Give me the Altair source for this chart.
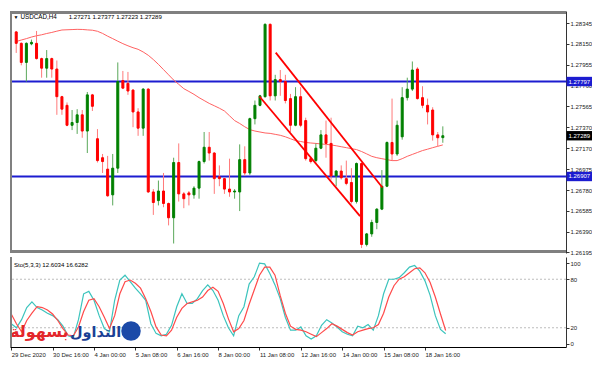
import json
import pandas as pd
import altair as alt

W, H1, H2 = 556, 242, 90
FONT = "Liberation Sans"

# ---------------- data ----------------
bars = list(range(85))
opens = [1.28262, 1.28155, 1.27976, 1.28150, 1.28155, 1.28012, 1.27922, 1.28012, 1.27914, 1.27655,
         1.27574, 1.27387, 1.27413, 1.27485, 1.27333, 1.27672, 1.27261, 1.27083, 1.26976, 1.26735,
         1.26985, 1.27806, 1.27780, 1.27717, 1.27512, 1.27360, 1.27726, 1.26762, 1.26681, 1.26771,
         1.26654, 1.26520, 1.27038, 1.26744, 1.26753, 1.26735, 1.26798, 1.27047, 1.27181, 1.27127,
         1.26904, 1.26887, 1.26789, 1.26762, 1.26762, 1.27065, 1.26940, 1.27449, 1.27574, 1.27655,
         1.28333, 1.27663, 1.27815, 1.27797, 1.27637, 1.27387, 1.27655, 1.27431, 1.27074, 1.27056,
         1.27172, 1.27297, 1.27217, 1.26913, 1.26958, 1.26887, 1.26851, 1.26672, 1.27029, 1.26270,
         1.26369, 1.26476, 1.26601, 1.26816, 1.27226, 1.27118, 1.27279, 1.27646, 1.27726, 1.27914,
         1.27646, 1.27574, 1.27530, 1.27297, 1.27271]
highs = [1.28271, 1.28164, 1.28164, 1.28190, 1.28271, 1.28021, 1.28092, 1.28021, 1.27994, 1.27663,
         1.27601, 1.27530, 1.27538, 1.27530, 1.27699, 1.27681, 1.27351, 1.27118, 1.27100, 1.27118,
         1.27976, 1.27896, 1.27887, 1.27726, 1.27547, 1.27735, 1.27735, 1.26789, 1.26869, 1.26940,
         1.26663, 1.27083, 1.27217, 1.26762, 1.26771, 1.26816, 1.27056, 1.27324, 1.27324, 1.27136,
         1.27011, 1.26895, 1.27074, 1.26789, 1.27208, 1.27190, 1.27458, 1.27619, 1.27672, 1.28342,
         1.28342, 1.27860, 1.27905, 1.27860, 1.27681, 1.27744, 1.27744, 1.27458, 1.27092, 1.27217,
         1.27342, 1.27431, 1.27458, 1.26967, 1.27011, 1.27056, 1.26985, 1.27038, 1.27038, 1.26378,
         1.26502, 1.26610, 1.26967, 1.27235, 1.27637, 1.27431, 1.27744, 1.27833, 1.27985, 1.27931,
         1.27753, 1.27637, 1.27556, 1.27324, 1.27377]
lows = [1.28065, 1.27949, 1.27797, 1.28137, 1.28003, 1.27833, 1.27833, 1.27833, 1.27485, 1.27485,
        1.27378, 1.27342, 1.27306, 1.27270, 1.27127, 1.27521, 1.27038, 1.26940, 1.26717, 1.26636,
        1.26940, 1.27726, 1.27672, 1.27369, 1.27288, 1.27288, 1.26753, 1.26547, 1.26636, 1.26619,
        1.26449, 1.26279, 1.26672, 1.26610, 1.26636, 1.26699, 1.26699, 1.27029, 1.27056, 1.26744,
        1.26816, 1.26744, 1.26717, 1.26699, 1.26583, 1.26913, 1.26922, 1.27395, 1.27565, 1.27646,
        1.27619, 1.27619, 1.27663, 1.27592, 1.27324, 1.27378, 1.27369, 1.27056, 1.27029, 1.27038,
        1.27163, 1.27083, 1.26878, 1.26816, 1.26878, 1.26825, 1.26654, 1.26654, 1.26236, 1.26252,
        1.26342, 1.26413, 1.26592, 1.26807, 1.27056, 1.27100, 1.27252, 1.27619, 1.27708, 1.27628,
        1.27547, 1.27395, 1.27243, 1.27190, 1.27223]
closes = [1.28155, 1.27976, 1.28155, 1.28164, 1.28012, 1.27922, 1.28012, 1.27914, 1.27655, 1.27538,
          1.27387, 1.27413, 1.27485, 1.27333, 1.27672, 1.27565, 1.27056, 1.27047, 1.26726, 1.26985,
          1.27797, 1.27735, 1.27708, 1.27512, 1.27360, 1.27726, 1.26762, 1.26663, 1.26771, 1.26654,
          1.26520, 1.27038, 1.26744, 1.26699, 1.26735, 1.26798, 1.27047, 1.27181, 1.27127, 1.26887,
          1.26887, 1.26789, 1.26762, 1.26771, 1.27065, 1.26940, 1.27449, 1.27574, 1.27663, 1.28333,
          1.27663, 1.27815, 1.27797, 1.27619, 1.27387, 1.27655, 1.27387, 1.27074, 1.27047, 1.27172,
          1.27297, 1.27217, 1.26913, 1.26958, 1.26895, 1.26842, 1.26672, 1.27029, 1.26270, 1.26369,
          1.26476, 1.26601, 1.26816, 1.27226, 1.27118, 1.27387, 1.27646, 1.27726, 1.27905, 1.27637,
          1.27574, 1.27512, 1.27297, 1.27270, 1.27289]
ma = [1.28172, 1.28186, 1.28199, 1.28214, 1.28226, 1.28235, 1.28247, 1.28257, 1.28269, 1.28280,
      1.28282, 1.28284, 1.28286, 1.28285, 1.28281, 1.28278, 1.28268, 1.28248, 1.28222, 1.28199,
      1.28175, 1.28152, 1.28132, 1.28114, 1.28099, 1.28074, 1.28043, 1.28003, 1.27958, 1.27909,
      1.27860, 1.27811, 1.27771, 1.27730, 1.27704, 1.27677, 1.27646, 1.27619, 1.27592, 1.27570,
      1.27547, 1.27521, 1.27476, 1.27431, 1.27404, 1.27373, 1.27346, 1.27333, 1.27324, 1.27315,
      1.27311, 1.27302, 1.27293, 1.27279, 1.27261, 1.27243, 1.27235, 1.27226, 1.27221, 1.27217,
      1.27212, 1.27208, 1.27203, 1.27195, 1.27186, 1.27177, 1.27168, 1.27159, 1.27141, 1.27119,
      1.27096, 1.27083, 1.27074, 1.27065, 1.27056, 1.27056, 1.27074, 1.27096, 1.27114, 1.27132,
      1.27150, 1.27163, 1.27177, 1.27190, 1.27203]
sto_main = [25, 20, 30, 45, 52, 45, 42, 38, 35, 30,
            22, 10, 8, 30, 62, 65, 54, 35, 19, 15,
            54, 79, 85, 77, 69, 62, 54, 25, 13, 10,
            12, 23, 46, 62, 50, 50, 56, 66, 73, 66,
            54, 35, 20, 10, 35, 46, 74, 83, 100, 99,
            87, 73, 56, 33, 17, 17, 21, 10, 6, 10,
            23, 30, 26, 21, 15, 12, 10, 22, 20, 24,
            17, 35, 62, 80, 80, 82, 88, 95, 97, 90,
            78, 60, 35, 18, 12.6034]
sto_signal = [37, 25, 15, 29, 38, 46, 45, 42, 37, 29,
              19, 11, 10, 21, 40, 54, 56, 46, 33, 19,
              35, 62, 77, 79, 75, 69, 56, 40, 21, 11,
              10, 17, 33, 44, 50, 52, 54, 58, 66, 70,
              65, 50, 31, 15, 19, 29, 49, 67, 85, 95,
              95, 85, 60, 38, 22, 18, 17, 15, 12, 9,
              14, 19, 25, 22, 18, 14, 11, 15, 17, 19,
              20, 24, 38, 58, 72, 80, 83, 88, 93, 94,
              88, 76, 58, 37, 16.6282]

price_ticks = [1.28345, 1.28150, 1.27955, 1.27760, 1.27565, 1.27370,
               1.27170, 1.26975, 1.26780, 1.26585, 1.26390, 1.26195]
levels = [1.27797, 1.26907]
last_price = 1.27289
sto_ticks = [0, 20, 80, 100]
sto_levels = [20, 80]
time_ticks = [0, 8, 16, 24, 32, 40, 48, 56, 64, 72, 80]
time_labels = ["29 Dec 2020", "30 Dec 16:00", "4 Jan 00:00", "5 Jan 08:00", "6 Jan 16:00",
               "8 Jan 00:00", "11 Jan 08:00", "12 Jan 16:00", "14 Jan 00:00", "15 Jan 08:00",
               "18 Jan 16:00"]
channel_bar = [51.1, 72.1, 47.9, 67.7]
channel_price = [1.28068, 1.26804, 1.27657, 1.26536]
channel_seg = ["upper", "upper", "lower", "lower"]
title_symbol = "USDCAD,H4"
title_ohlc = "1.27271 1.27377 1.27223 1.27289"
sto_title = "Sto(5,3,3) 12.6034 16.6282"
logo_word1 = "التداول"
logo_word2 = "بسهولة"

# ---------------- build ----------------
df = pd.DataFrame(dict(bar=bars, open=opens, high=highs, low=lows, close=closes, ma=ma))
xs = alt.Scale(domain=[-0.24, 107.27], nice=False, zero=False)
ys = alt.Scale(domain=[1.26190, 1.28458], nice=False, zero=False)
yaxis = alt.Axis(orient="right", values=price_ticks, format=".5f", title=None, grid=False,
                 labelFontSize=6, labelFont=FONT, labelColor="#222", tickSize=3,
                 tickColor="#333", domainColor="#333", labelPadding=1)
X = alt.X("bar:Q", scale=xs, axis=None)


def Y(f):
    return alt.Y(f, scale=ys, axis=yaxis)


one = pd.DataFrame({"a": [0]})
base = alt.Chart(df)
up = "datum.close >= datum.open"
dn = "datum.close < datum.open"

wick_up = base.transform_filter(up).mark_rule(color="#5aa85a", strokeWidth=1).encode(
    x=X, y=Y("low:Q"), y2="high:Q")
wick_dn = base.transform_filter(dn).mark_rule(color="#ff7a7a", strokeWidth=1).encode(
    x=X, y=Y("low:Q"), y2="high:Q")
body_up = base.transform_filter(up).mark_bar(size=2, color="#008000", stroke="#008000",
                                             strokeWidth=1).encode(x=X, y=Y("open:Q"), y2="close:Q")
body_dn = base.transform_filter(dn).mark_bar(size=2, color="#ff0000", stroke="#ff0000",
                                             strokeWidth=1).encode(x=X, y=Y("open:Q"), y2="close:Q")
ma_line = base.mark_line(color="#ff6262", strokeWidth=1).encode(x=X, y=Y("ma:Q"))

lv = alt.Chart(pd.DataFrame({"price": levels})).mark_rule(
    color="#1c1cd0", strokeWidth=2, strokeJoin="bevel").encode(y=Y("price:Q"))

ch = alt.Chart(pd.DataFrame({"bar": channel_bar, "price": channel_price, "seg": channel_seg})
               ).mark_line(color="#ff0000", strokeWidth=1.8).encode(x=X, y=Y("price:Q"), detail="seg:N")

boxes = pd.DataFrame({"price": levels + [last_price],
                      "label": ["%.5f" % p for p in levels + [last_price]],
                      "fill": ["#1c1cd0", "#1c1cd0", "#000000"]})
box_bg = alt.Chart(boxes).transform_calculate(
    lo="datum.price - 0.00044", hi="datum.price + 0.00044").mark_rect().encode(
    x=alt.value(W + 0.5), x2=alt.value(W + 26), y=Y("lo:Q"), y2="hi:Q",
    color=alt.Color("fill:N", scale=None))
box_tx = alt.Chart(boxes).mark_text(align="left", baseline="middle", fontSize=6, font=FONT,
                                    color="white").encode(
    x=alt.value(W + 2.5), y=Y("price:Q"), text="label:N")

t_tri = alt.Chart(one).mark_text(text="▼", fontSize=5, color="#000", align="left",
                                 baseline="middle").encode(x=alt.value(3.5), y=alt.value(5.5))
t_sym = alt.Chart(pd.DataFrame({"t": [title_symbol]})).mark_text(
    fontSize=6.3, font=FONT, color="#000", align="left", baseline="middle").encode(
    x=alt.value(10.4), y=alt.value(5.5), text="t:N")
t_ohlc = alt.Chart(pd.DataFrame({"t": [title_ohlc]})).mark_text(
    fontSize=6.1, font=FONT, color="#000", align="left", baseline="middle").encode(
    x=alt.value(58.7), y=alt.value(5.5), text="t:N")


def band(x1, x2, y1, y2, color="#808080"):
    return alt.Chart(one).mark_rect(color=color).encode(
        x=alt.value(x1), x2=alt.value(x2), y=alt.value(y1), y2=alt.value(y2))


main = alt.layer(lv, ma_line, wick_up, wick_dn, body_up, body_dn, ch, t_tri, t_sym, t_ohlc,
                 band(0, W, 0, 3), band(0, 2, 0, H1), band(0, W, H1 - 3, H1),
                 box_bg, box_tx).properties(width=W, height=H1)

# stochastic panel
sdf = pd.DataFrame(dict(bar=bars, main=sto_main, signal=sto_signal))
ss = alt.Scale(domain=[-3.8, 107.5], nice=False, zero=False)
saxis = alt.Axis(orient="right", values=sto_ticks, format="d", title=None, grid=False,
                 labelFontSize=6, labelFont=FONT, labelColor="#222", tickSize=3,
                 tickColor="#333", domainColor="#333", labelPadding=1)
xaxis = alt.Axis(values=time_ticks, labelExpr=json.dumps(time_labels) + "[round(datum.value/8)]",
                 labelAlign="left", labelFontSize=6, labelFont=FONT, labelColor="#222",
                 tickSize=3, tickColor="#333", domainColor="#000", labelPadding=1,
                 title=None, grid=False, labelFlush=False, labelOverlap=False)
SX = alt.X("bar:Q", scale=xs, axis=xaxis)


def SY(f):
    return alt.Y(f, scale=ss, axis=saxis)


slev = alt.Chart(pd.DataFrame({"v": sto_levels})).mark_rule(
    color="#bdbdbd", strokeWidth=1, strokeDash=[2, 2], strokeJoin="bevel").encode(y=SY("v:Q"))
s_main = alt.Chart(sdf).mark_line(color="#3cc4bd", strokeWidth=1.2).encode(x=SX, y=SY("main:Q"))
s_sig = alt.Chart(sdf).mark_line(color="#ff4a4a", strokeWidth=1.2).encode(x=SX, y=SY("signal:Q"))
s_title = alt.Chart(pd.DataFrame({"t": [sto_title]})).mark_text(
    fontSize=6.1, font=FONT, color="#000", align="left", baseline="middle").encode(
    x=alt.value(3.9), y=alt.value(7.6), text="t:N")
logo_r = alt.Chart(pd.DataFrame({"t": [logo_word2]})).mark_text(
    fontSize=16, font="DejaVu Sans", fontWeight="bold", color="#e3262b", align="left",
    baseline="alphabetic").encode(x=alt.value(0), y=alt.value(80), text="t:N")
logo_b = alt.Chart(pd.DataFrame({"t": [logo_word1]})).mark_text(
    fontSize=14.5, font="DejaVu Sans", fontWeight="bold", color="#1b3f94", align="left",
    baseline="alphabetic").encode(x=alt.value(60), y=alt.value(80), text="t:N")
logo_icon = alt.Chart(one).mark_point(shape="circle", filled=True, color="#1b4aa8", size=380,
                                      opacity=1).encode(x=alt.value(121), y=alt.value(74))

stoch = alt.layer(slev, s_main, s_sig, s_title, logo_icon, logo_b, logo_r,
                  band(0, 2, 0, H2)).properties(width=W, height=H2)

chart = alt.vconcat(main, stoch, spacing=1).resolve_scale(
    x="independent", y="independent").properties(
    padding={"left": 0, "top": 3, "right": 0, "bottom": 0}, background="white"
).configure_view(strokeWidth=0)

chart.save("out.html", embed_options={"renderer": "svg", "actions": False})
